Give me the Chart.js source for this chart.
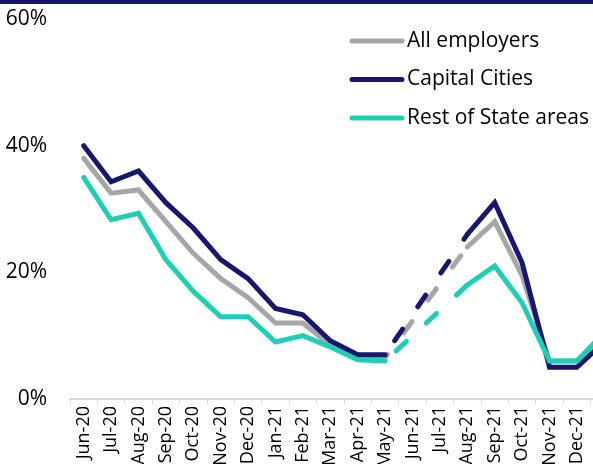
<!DOCTYPE html>
<html>
<head>
<meta charset="utf-8">
<script src="https://cdn.jsdelivr.net/npm/chart.js@4.4.1/dist/chart.umd.min.js"></script>
<style>
  html, body { margin: 0; padding: 0; background: #fff; }
  #frame { position: relative; width: 593px; height: 464px; overflow: hidden; }
  #topbar { position: absolute; left: 0; top: 0; width: 593px; height: 4px; background: #16166a; z-index: 2; }
  #holder { position: absolute; left: 0; top: 0; }
</style>
</head>
<body>
<div id="frame">
  <div id="topbar"></div>
  <div id="holder"><canvas id="vacancyChart" width="620" height="475"></canvas></div>
</div>
<script>
// months (last one runs off the right edge of the picture)
const months = ['Jun-20', 'Jul-20', 'Aug-20', 'Sep-20', 'Oct-20', 'Nov-20', 'Dec-20',
  'Jan-21', 'Feb-21', 'Mar-21', 'Apr-21', 'May-21', 'Jun-21', 'Jul-21', 'Aug-21',
  'Sep-21', 'Oct-21', 'Nov-21', 'Dec-21', 'Jan-22'];

// values in %, null = no data (drawn dashed across the gap)
const allEmployers = [38, 32.5, 33, 28, 23, 19, 16, 12, 12, 8.5, 6.5, 6.5, null, null, 24, 28, 19.5, 6, 6, 10];
const capitalCities = [40, 34.3, 36, 31, 27, 22, 19, 14.3, 13.3, 9.2, 7, 7, null, null, 26, 31, 21.5, 5, 5, 9];
const restOfState = [35, 28.3, 29.3, 22, 17, 13, 13, 9, 10, 8.2, 6.2, 6, null, null, 18, 21, 15.2, 6, 6, 10.5];

const yTicks = [0, 20, 40, 60];

const FONT = "'Open Sans', sans-serif";

function series(label, values, color, order, dashStart) {
  const inGap = ctx => ctx.p0.skip || ctx.p1.skip;
  return {
    label: label,
    data: values,
    borderColor: color,
    backgroundColor: color,
    borderWidth: 5,
    borderCapStyle: 'round',
    borderJoinStyle: 'miter',
    pointRadius: 0,
    tension: 0,
    spanGaps: true,
    order: order,
    segment: {
      borderDash: ctx => inGap(ctx) ? [14, 27] : undefined,
      borderDashOffset: ctx => inGap(ctx) ? dashStart : undefined
    }
  };
}

const insideLegend = {
  id: 'insideLegend',
  afterDraw(chart) {
    const ctx = chart.ctx;
    ctx.save();
    chart.data.datasets.forEach(function(ds, i) {
      const y = 41 + i * 38.5;
      ctx.strokeStyle = ds.borderColor;
      ctx.lineWidth = 5;
      ctx.lineCap = 'round';
      ctx.beginPath();
      ctx.moveTo(352, y);
      ctx.lineTo(402, y);
      ctx.stroke();
      ctx.fillStyle = '#000';
      ctx.font = '21px ' + FONT;
      ctx.textBaseline = 'middle';
      ctx.textAlign = 'left';
      ctx.fillText(ds.label, 407, y);
    });
    ctx.restore();
  }
};

const config = {
  type: 'line',
  data: {
    labels: months,
    datasets: [
      series('All employers', allEmployers, '#a6a6a6', 3, 10),
      series('Capital Cities', capitalCities, '#17176e', 2, 24),
      series('Rest of State areas', restOfState, '#1ccfb5', 1, 26)
    ]
  },
  options: {
    responsive: false,
    animation: false,
    layout: { padding: { top: 19, right: 2, left: 0, bottom: 0 } },
    plugins: {
      legend: { display: false },
      tooltip: { enabled: false }
    },
    scales: {
      x: {
        offset: true,
        grid: { display: true, offset: true, drawOnChartArea: false, drawTicks: true, tickLength: 5, color: '#d9d9d9', lineWidth: 1 },
        border: { display: true, color: '#d9d9d9', width: 2 },
        ticks: { autoSkip: false, maxRotation: 90, minRotation: 90, padding: 2, color: '#000', font: { family: FONT, size: 18 } },
        afterFit: function(s) { s.height = 76; s.paddingLeft = 0; s.paddingRight = 0; }
      },
      y: {
        min: 0,
        max: 60,
        afterBuildTicks: function(s) { s.ticks = yTicks.map(v => ({ value: v })); },
        grid: { display: false, drawTicks: false },
        border: { display: false },
        ticks: { padding: 23, color: '#000', font: { family: FONT, size: 21 }, callback: v => v + '%' },
        afterFit: function(s) { s.width = 70; s.paddingTop = 0; s.paddingBottom = 0; }
      }
    }
  },
  plugins: [insideLegend]
};

new Chart(document.getElementById('vacancyChart'), config);
</script>
</body>
</html>
